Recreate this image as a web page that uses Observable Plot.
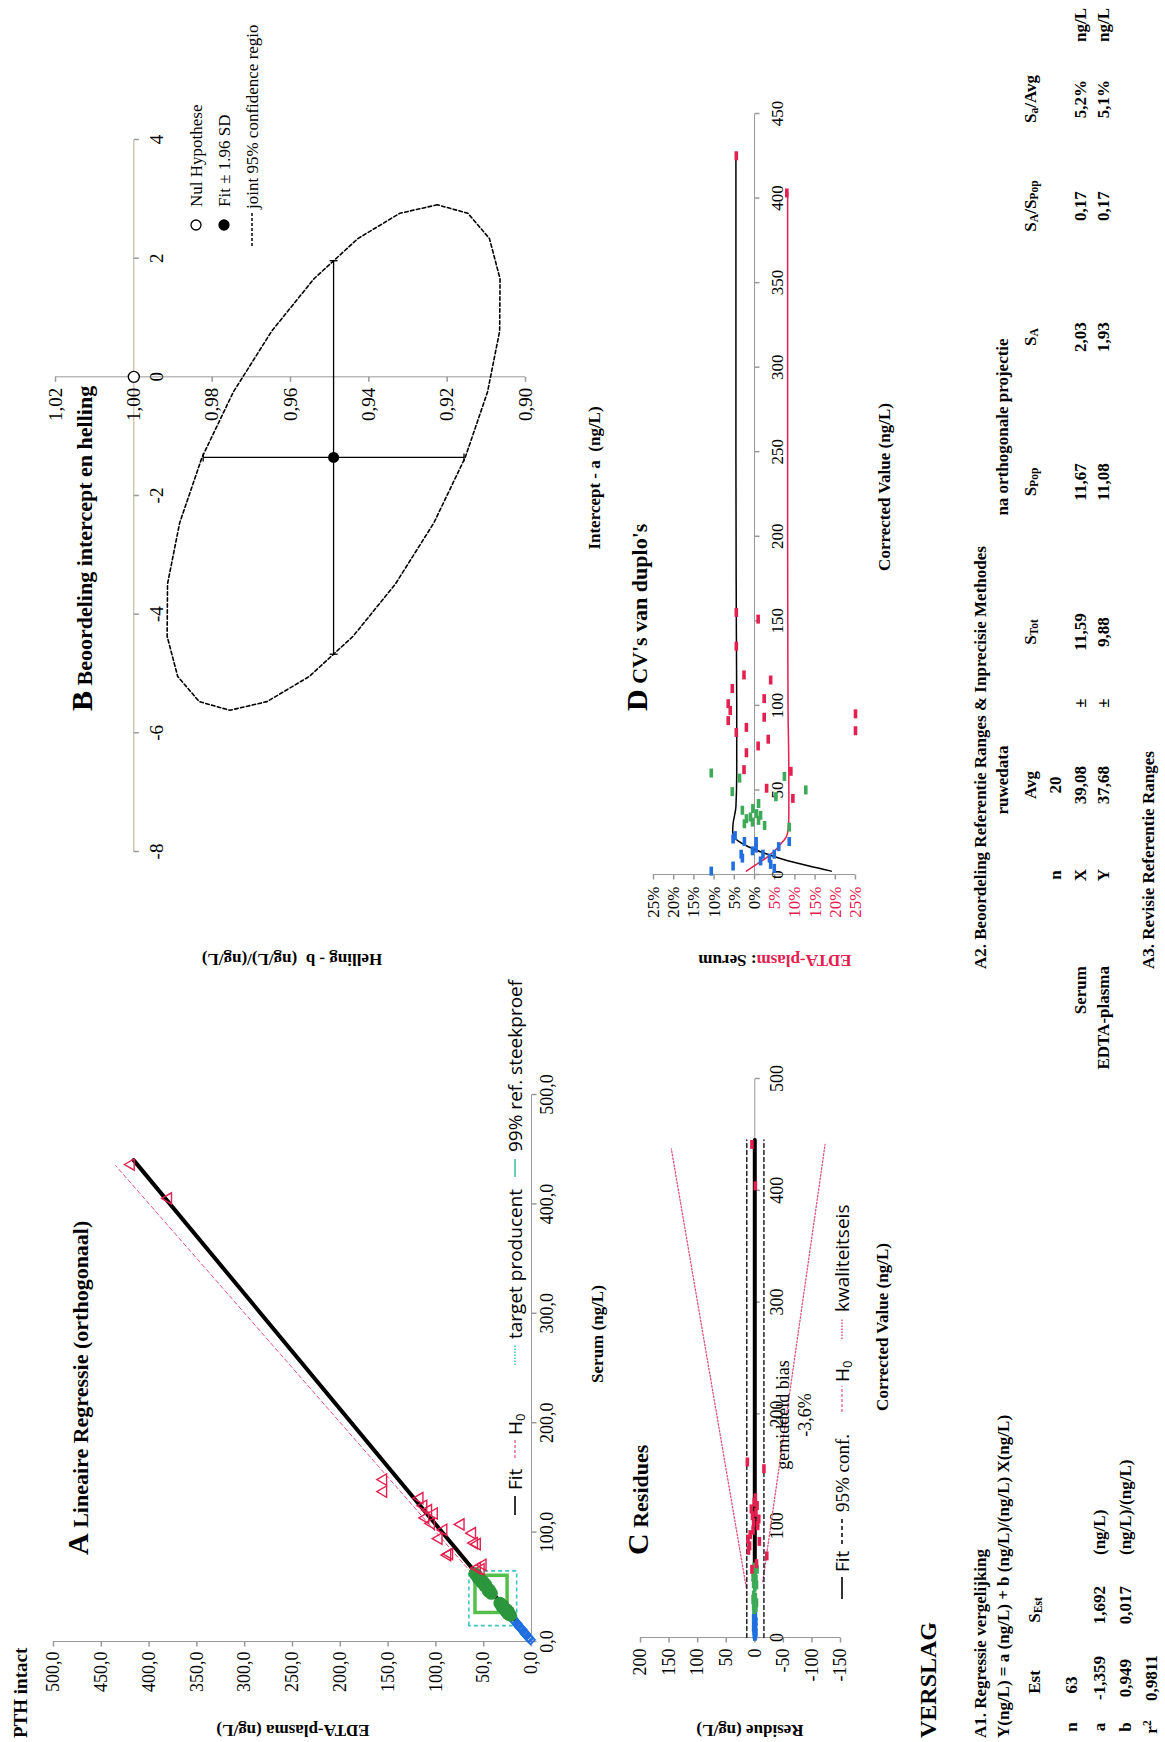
<!DOCTYPE html>
<html><head><meta charset="utf-8">
<script src="https://cdn.jsdelivr.net/npm/d3@7"></script>
<script src="https://cdn.jsdelivr.net/npm/@observablehq/plot@0.6"></script>
<style>
html,body{margin:0;padding:0;width:1165px;height:1742px;overflow:hidden;background:#fff;}
#page{position:absolute;left:0;top:0;width:1742px;height:1165px;transform-origin:0 0;transform:translate(0px,1742px) rotate(-90deg);background:#fff;font-family:'Liberation Serif','Times New Roman',serif;color:#000;overflow:hidden;}
.t{position:absolute;white-space:nowrap;line-height:1;}
.t sub{font-size:68%;vertical-align:-0.25em;line-height:0;}
.t sup{font-size:68%;vertical-align:0.5em;line-height:0;}
.w{position:absolute;}
</style></head>
<body><div id="page"></div>
<script>
const SERIF = "'Liberation Serif','Times New Roman',serif";
const SANS = "'Open Sans','Liberation Sans',sans-serif";
const RED = "#e3204f", BLUE = "#1f6fe0", GREEN = "#2c963c", LGREEN = "#3daa58", RGREEN = "#55bf4c",
      CYAN = "#3ec6c0", PINK = "#e0507a", AXIS = "#999";

// ---------- Panel A : Lineaire Regressie ----------
const aXTicks = [0, 100, 200, 300, 400, 500];
const aYTicks = [0, 50, 100, 150, 200, 250, 300, 350, 400, 450, 500];
const blueSerum = [1.5, 3, 4, 5.5, 6.5, 8, 9, 10.5, 12, 13, 14.5, 15.5, 16.5, 18, 19, 20.5, 7, 11];
const blueEdta  = [1, 2.5, 3.5, 5, 6, 7.5, 8, 9.5, 11, 12.5, 13.5, 14.5, 15, 17, 18, 19, 6.5, 10];
const greenSerum = [24, 25, 26, 27, 28, 29, 30, 31, 32, 33, 35, 44, 46, 47, 48, 50, 51, 52, 54, 55, 57, 58, 60, 62];
const greenEdta  = [22, 24, 25, 24, 27, 26, 28, 29, 31, 30, 33, 42, 45, 44, 46, 47, 49, 48, 52, 51, 54, 56, 57, 59];
const redSerum = [67, 70, 79, 80, 89, 94, 99, 102, 107, 108, 113, 117, 124, 131, 137, 148, 405, 436, 66, 90, 120];
const redEdta  = [57, 51, 88, 86, 57, 97, 62, 92, 74, 105, 111, 102, 113, 117, 155, 155, 380, 419, 53, 60, 108];
const fitAX = [20, 440];
const fitAY = [17.6, 416.2];
const h0AX = [0, 435];
const targetRange = [15, 65];
const refSerum = [27, 61];
const refEdta = [25, 58.6];

// ---------- Panel B : intercept en helling ----------
const bXTicks = [-8, -6, -4, -2, 0, 2, 4];
const bYTicks = [0.90, 0.92, 0.94, 0.96, 0.98, 1.00, 1.02];
const fitA = [-1.359];
const fitB = [0.949];
const errA = [-4.675, 1.957];
const errB = [0.9157, 0.9823];
const nulA = [0];
const nulB = [1.00];
const ellA = [2.90, 2.756, 2.33, 1.653, 0.77, -0.256, -1.359, -2.462, -3.49, -4.371, -5.05, -5.474, -5.62, -5.474, -5.05, -4.371, -3.49, -2.462, -1.359, -0.256, 0.77, 1.653, 2.33, 2.756];
const ellB = [0.9225, 0.9321, 0.9428, 0.9540, 0.9648, 0.9746, 0.9826, 0.9883, 0.9914, 0.9915, 0.9888, 0.9833, 0.9755, 0.9660, 0.9552, 0.9440, 0.9332, 0.9234, 0.9154, 0.9097, 0.9066, 0.9065, 0.9092, 0.9147];

// ---------- Panel C : Residues ----------
const cXTicks = [0, 100, 200, 300, 400, 500];
const cYTicks = [-150, -100, -50, 0, 50, 100, 150, 200];
const cBlueX = [1, 2, 3, 4, 5, 6, 8, 9, 10, 12, 13, 14, 16, 17, 19, 20];
const cBlueY = [0, -1, 1, 0, -2, 1, 0, 2, -1, 0, 1, -2, 0, 2, -1, 1];
const cGreenX = [25, 27, 28, 30, 31, 33, 34, 36, 38, 45, 47, 48, 50, 52, 54, 55, 57, 59, 61, 63];
const cGreenY = [1, -2, 2, 0, -3, 1, 3, -1, 2, 0, -3, 2, 1, -2, 3, 0, -1, 2, -4, 1];
const cRedX = [61, 66, 73, 78, 82, 86, 88, 92, 96, 100, 103, 106, 109, 112, 115, 118, 121, 125, 151, 157, 404, 441];
const cRedY = [5, -3, -21, 11, 9, -8, 12, 8, 3, -5, 2, -7, 4, -2, 6, -4, 1, -1, -16, 13, -1, 5];
const cFitX = [48, 445];
const cFitY = [0, 0];
const cConfX = [0, 445];
const cConfUp = [14, 14];
const cConfLo = [-16, -16];
const kwalUpX = [45, 437], kwalUpY = [15, 146];
const kwalLoX = [50, 441], kwalLoY = [-14, -123];

// ---------- Panel D : CV's van duplo's ----------
const dXTicks = [0, 50, 100, 150, 200, 250, 300, 350, 400, 450];
const dYTicks = [-25, -20, -15, -10, -5, 0, 5, 10, 15, 20, 25];
const dBlueX = [2, 5, 9.7, 12, 19.5, 21, 23, 14, 15.6, 19.5, 12, 9.7, 3.6, 12, 16.5, 19.5, 6, 8];
const dBlueY = [10.7, 5.3, 3, 3.3, 2.5, 5.3, 4.8, 0.5, -0.4, -0.4, -2.1, -3.7, -4.9, -4.9, -6, -8.6, -4, -1.5];
const dGreenX = [60, 49, 57, 39, 33, 30, 32, 34, 36, 35, 31, 38, 46, 58, 28, 50, 42, 29];
const dGreenY = [10.7, 5.5, 3.7, 0.4, 2, 2.5, -1, 1, -0.5, -1.5, 0.5, 3, -5.3, -7.4, -8.6, -12.7, -1, -2.5];
const dRedX = [61, 51, 91, 97, 101, 84, 118, 87, 72, 62, 135, 151, 76, 93, 80, 104, 85, 95, 425, 403, 110, 115, 45, 155];
const dRedY = [-9, -3, 6.5, 6, 6.5, 4.5, 2.6, 2, 2, 2.6, 4.5, -0.9, -0.9, -2.4, -3.4, -2.4, -25, -25, 4.5, -8, 5.5, -4, -9.5, 4.5];
const dBlackX = [2, 5, 9, 13, 17, 21, 25, 30, 40, 60, 100, 150, 250, 350, 425];
const dBlackY = [-19, -13.5, -7, -2, 2, 4.6, 5.4, 5.3, 4.6, 4.4, 4.4, 4.5, 4.6, 4.6, 4.6];
const dRedLineX = [2, 6, 10, 14, 18, 22, 26, 35, 60, 100, 200, 300, 403];
const dRedLineY = [2, -0.5, -3, -5, -6.5, -7.8, -8.3, -8.5, -8.5, -8.3, -8.2, -8.2, -8.2];

// ---------- helpers ----------
const pts = (xs, ys) => xs.map((x, i) => ({x, y: ys[i]}));
const fmt1 = d => d.toFixed(1).replace('.', ',');
const fmt2 = d => d.toFixed(2).replace('.', ',');
const tickDown = {draw(c) { c.moveTo(0, 0); c.lineTo(0, 5); }};
const tickLeft = {draw(c) { c.moveTo(0, 0); c.lineTo(-5, 0); }};
const capV = {draw(c) { c.moveTo(0, -4); c.lineTo(0, 4); }};
const capH = {draw(c) { c.moveTo(-4, 0); c.lineTo(4, 0); }};
const dashSym = {draw(c) { c.moveTo(-4.5, -1.8); c.lineTo(4.5, -1.8); c.lineTo(4.5, 1.8); c.lineTo(-4.5, 1.8); c.closePath(); }};
const page = document.getElementById('page');
const svgns = "http://www.w3.org/2000/svg";

function T(x, y, html, o = {}) {
  const {size = 17, bold = false, anchor = 'start', family = SERIF, color = '#000', rot = 0} = o;
  const d = document.createElement('div');
  d.className = 't';
  d.style.left = x + 'px'; d.style.top = y + 'px';
  d.style.fontSize = size + 'px';
  d.style.fontWeight = bold ? 'bold' : 'normal';
  d.style.fontFamily = family; d.style.color = color;
  const tx = anchor === 'start' ? '0' : anchor === 'middle' ? '-50%' : '-100%';
  d.style.transform = `translate(${tx},-50%)` + (rot ? ` rotate(${rot}deg)` : '');
  d.innerHTML = html;
  page.appendChild(d);
  return d;
}
function L(x1, x2, y, color, o = {}) {
  const {dash = null, width = 1.5} = o;
  const s = document.createElementNS(svgns, 'svg');
  s.setAttribute('width', x2 - x1); s.setAttribute('height', 10);
  s.style.position = 'absolute'; s.style.left = x1 + 'px'; s.style.top = (y - 5) + 'px';
  const l = document.createElementNS(svgns, 'line');
  l.setAttribute('x1', 0); l.setAttribute('x2', x2 - x1); l.setAttribute('y1', 5); l.setAttribute('y2', 5);
  l.setAttribute('stroke', color); l.setAttribute('stroke-width', width);
  if (dash) l.setAttribute('stroke-dasharray', dash);
  s.appendChild(l); page.appendChild(s);
}
function C(x, y, r, fill) {
  const s = document.createElementNS(svgns, 'svg');
  s.setAttribute('width', 2 * r + 4); s.setAttribute('height', 2 * r + 4);
  s.style.position = 'absolute'; s.style.left = (x - r - 2) + 'px'; s.style.top = (y - r - 2) + 'px';
  const c = document.createElementNS(svgns, 'circle');
  c.setAttribute('cx', r + 2); c.setAttribute('cy', r + 2); c.setAttribute('r', r);
  c.setAttribute('fill', fill); c.setAttribute('stroke', '#000'); c.setAttribute('stroke-width', 1.3);
  s.appendChild(c); page.appendChild(s);
}
function place(el, left, top) {
  const w = document.createElement('div');
  w.className = 'w'; w.style.left = left + 'px'; w.style.top = top + 'px';
  w.appendChild(el); page.appendChild(w);
}
const baseStyle = {background: "none", overflow: "visible"};

// ---------- Plot A ----------
const plotA = Plot.plot({
  width: 700, height: 580, marginLeft: 100, marginRight: 53, marginTop: 53, marginBottom: 49,
  x: {domain: [0, 500], axis: null}, y: {domain: [0, 500], axis: null},
  style: baseStyle,
  marks: [
    Plot.ruleX([aXTicks[0]], {y1: aYTicks[0], y2: aYTicks[aYTicks.length - 1], stroke: AXIS}),
    Plot.ruleY([aYTicks[0]], {x1: aXTicks[0], x2: aXTicks[aXTicks.length - 1], stroke: AXIS}),
    Plot.dot(aYTicks, {x: () => aXTicks[0], y: d => d, symbol: tickLeft, stroke: AXIS, fill: "none"}),
    Plot.text(aYTicks, {x: () => aXTicks[0], y: d => d, text: d => fmt1(d), dx: -10, textAnchor: "end", fontFamily: SERIF, fontSize: 18}),
    Plot.dot(aXTicks, {x: d => d, y: () => aYTicks[0], symbol: tickDown, stroke: AXIS, fill: "none"}),
    Plot.text(aXTicks, {x: d => d, y: () => aYTicks[0], text: d => fmt1(d), dy: 16, fontFamily: SERIF, fontSize: 18}),
    Plot.rect([{x1: targetRange[0], x2: targetRange[1], y1: targetRange[0], y2: targetRange[1]}],
      {x1: "x1", x2: "x2", y1: "y1", y2: "y2", fill: "none", stroke: CYAN, strokeWidth: 1.6, strokeDasharray: "4,3"}),
    Plot.rect([{x1: refSerum[0], x2: refSerum[1], y1: refEdta[0], y2: refEdta[1]}],
      {x1: "x1", x2: "x2", y1: "y1", y2: "y2", fill: "none", stroke: RGREEN, strokeWidth: 3.5}),
    Plot.line(pts(h0AX, h0AX), {x: "x", y: "y", stroke: PINK, strokeWidth: 1, strokeDasharray: "4,3"}),
    Plot.line(pts(fitAX, fitAY), {x: "x", y: "y", stroke: "#000", strokeWidth: 4}),
    Plot.dot(pts(blueSerum, blueEdta), {x: "x", y: "y", symbol: "diamond2", r: 4, stroke: BLUE, strokeWidth: 1.6, fill: "none"}),
    Plot.dot(pts(greenSerum, greenEdta), {x: "x", y: "y", r: 6.5, fill: GREEN}),
    Plot.dot(pts(redSerum, redEdta), {x: "x", y: "y", symbol: "triangle", r: 4.2, stroke: RED, strokeWidth: 1.4, fill: "none"})
  ]
});
place(plotA, 0, 0);

// ---------- Plot B ----------
const ell = pts(ellA, ellB);
const plotB = Plot.plot({
  width: 880, height: 560, marginLeft: 70, marginRight: 98, marginTop: 55, marginBottom: 35,
  x: {domain: [bXTicks[0], bXTicks[bXTicks.length - 1]], axis: null},
  y: {domain: [bYTicks[0], bYTicks[bYTicks.length - 1]], axis: null},
  style: baseStyle,
  marks: [
    Plot.ruleY(nulB, {x1: bXTicks[0], x2: bXTicks[bXTicks.length - 1], stroke: "#c0a890"}),
    Plot.ruleX(nulA, {y1: bYTicks[0], y2: bYTicks[bYTicks.length - 1], stroke: AXIS}),
    Plot.dot(bXTicks, {x: d => d, y: () => nulB[0], symbol: tickDown, stroke: AXIS, fill: "none"}),
    Plot.text(bXTicks, {x: d => d, y: () => nulB[0], text: d => String(d), dy: 23, fontFamily: SERIF, fontSize: 19}),
    Plot.dot(bYTicks, {x: () => nulA[0], y: d => d, symbol: tickLeft, stroke: AXIS, fill: "none"}),
    Plot.text(bYTicks, {x: () => nulA[0], y: d => d, text: d => fmt2(d), dx: -11, textAnchor: "end", fontFamily: SERIF, fontSize: 19}),
    Plot.line(ell, {x: "x", y: "y", curve: "linear-closed", stroke: "#000", strokeWidth: 1.6, strokeDasharray: "3.5,2.5"}),
    Plot.link([{a1: errA[0], a2: errA[1], b: fitB[0]}], {x1: "a1", x2: "a2", y1: "b", y2: "b", stroke: "#000", strokeWidth: 1.3}),
    Plot.link([{a: fitA[0], b1: errB[0], b2: errB[1]}], {x1: "a", x2: "a", y1: "b1", y2: "b2", stroke: "#000", strokeWidth: 1.3}),
    Plot.dot(errA, {x: d => d, y: () => fitB[0], symbol: capV, stroke: "#000", strokeWidth: 1.3, fill: "none"}),
    Plot.dot(errB, {x: () => fitA[0], y: d => d, symbol: capH, stroke: "#000", strokeWidth: 1.3, fill: "none"}),
    Plot.dot(pts(fitA, fitB), {x: "x", y: "y", r: 5.5, fill: "#000"}),
    Plot.dot(pts(nulA, nulB), {x: "x", y: "y", r: 5.5, fill: "#fff", stroke: "#000", strokeWidth: 1.4})
  ]
});
place(plotB, 820, 0);

// ---------- Plot C ----------
const plotC = Plot.plot({
  width: 700, height: 280, marginLeft: 104, marginRight: 37, marginTop: 40, marginBottom: 40,
  x: {domain: [0, 500], axis: null}, y: {domain: [-150, 200], axis: null},
  style: baseStyle,
  marks: [
    Plot.ruleX([cXTicks[0]], {y1: cYTicks[0], y2: cYTicks[cYTicks.length - 1], stroke: AXIS}),
    Plot.ruleY([0], {x1: cXTicks[0], x2: cXTicks[cXTicks.length - 1], stroke: AXIS}),
    Plot.dot(cYTicks, {x: () => cXTicks[0], y: d => d, symbol: tickLeft, stroke: AXIS, fill: "none"}),
    Plot.text(cYTicks, {x: () => cXTicks[0], y: d => d, text: d => String(d), dx: -11, textAnchor: "end", fontFamily: SERIF, fontSize: 18}),
    Plot.dot(cXTicks, {x: d => d, y: () => 0, symbol: tickDown, stroke: AXIS, fill: "none"}),
    Plot.text(cXTicks, {x: d => d, y: () => 0, text: d => String(d), dy: 22, fontFamily: SERIF, fontSize: 18}),
    Plot.line(pts(kwalUpX, kwalUpY), {x: "x", y: "y", stroke: PINK, strokeWidth: 1.3, strokeDasharray: "1.5,2"}),
    Plot.line(pts(kwalLoX, kwalLoY), {x: "x", y: "y", stroke: PINK, strokeWidth: 1.3, strokeDasharray: "1.5,2"}),
    Plot.line(pts(cConfX, cConfUp), {x: "x", y: "y", stroke: "#222", strokeWidth: 1.5, strokeDasharray: "4,3"}),
    Plot.line(pts(cConfX, cConfLo), {x: "x", y: "y", stroke: "#222", strokeWidth: 1.5, strokeDasharray: "4,3"}),
    Plot.line(pts(cFitX, cFitY), {x: "x", y: "y", stroke: "#000", strokeWidth: 4}),
    Plot.dot(pts(cBlueX, cBlueY), {x: "x", y: "y", symbol: dashSym, fill: BLUE}),
    Plot.dot(pts(cGreenX, cGreenY), {x: "x", y: "y", symbol: dashSym, fill: LGREEN}),
    Plot.dot(pts(cRedX, cRedY), {x: "x", y: "y", symbol: dashSym, fill: RED})
  ]
});
place(plotC, 0, 600);

// ---------- Plot D ----------
const plotD = Plot.plot({
  width: 880, height: 290, marginLeft: 67, marginRight: 52, marginTop: 43, marginBottom: 45,
  x: {domain: [0, 450], axis: null}, y: {domain: [-25, 25], axis: null},
  style: baseStyle,
  marks: [
    Plot.ruleX([dXTicks[0]], {y1: dYTicks[0], y2: dYTicks[dYTicks.length - 1], stroke: AXIS}),
    Plot.ruleY([0], {x1: dXTicks[0], x2: dXTicks[dXTicks.length - 1], stroke: AXIS}),
    Plot.dot(dYTicks, {x: () => dXTicks[0], y: d => d, symbol: tickLeft, stroke: AXIS, fill: "none"}),
    Plot.text(dYTicks, {x: () => dXTicks[0], y: d => d, text: d => Math.abs(d) + "%", fill: d => d < 0 ? RED : "#000", dx: -12, textAnchor: "end", fontFamily: SERIF, fontSize: 17}),
    Plot.dot(dXTicks, {x: d => d, y: () => 0, symbol: tickDown, stroke: AXIS, fill: "none"}),
    Plot.text(dXTicks, {x: d => d, y: () => 0, text: d => String(d), dy: 23, fontFamily: SERIF, fontSize: 17}),
    Plot.line(pts(dBlackX, dBlackY), {x: "x", y: "y", curve: "monotone-x", stroke: "#000", strokeWidth: 1.5}),
    Plot.line(pts(dRedLineX, dRedLineY), {x: "x", y: "y", curve: "monotone-x", stroke: RED, strokeWidth: 1.5}),
    Plot.dot(pts(dBlueX, dBlueY), {x: "x", y: "y", symbol: dashSym, fill: BLUE}),
    Plot.dot(pts(dGreenX, dGreenY), {x: "x", y: "y", symbol: dashSym, fill: LGREEN}),
    Plot.dot(pts(dRedX, dRedY), {x: "x", y: "y", symbol: dashSym, fill: RED})
  ]
});
place(plotD, 800, 610);

// ---------- titles & labels ----------
T(4, 20, 'PTH intact', {bold: true, size: 19});
T(187, 78, '<span style="font-size:30px">A</span> Lineaire Regressie (orthogonaal)', {bold: true, size: 22});
T(1031, 82, '<span style="font-size:30px">B</span> Beoordeling intercept en helling', {bold: true, size: 22});
T(187, 638, '<span style="font-size:30px">C</span> Residues', {bold: true, size: 22});
T(1031, 637, '<span style="font-size:30px">D</span> CV\'s van duplo\'s', {bold: true, size: 22});

T(408, 597, 'Serum (ng/L)', {bold: true, anchor: 'middle'});
T(12, 293, 'EDTA-plasma (ng/L)', {bold: true, anchor: 'middle', rot: -90});
T(783, 292, 'Helling - b&nbsp;&nbsp;(ng/L)/(ng/L)', {bold: true, anchor: 'middle', rot: -90});
T(1264, 594, 'Intercept - a&nbsp;&nbsp;(ng/L)', {bold: true, anchor: 'middle'});
T(12, 750, 'Residue (ng/L)', {bold: true, anchor: 'middle', rot: -90});
T(415, 882, 'Corrected Value (ng/L)', {bold: true, anchor: 'middle'});
T(782, 775, '<span style="color:' + RED + '">EDTA-plasm</span>: Serum', {bold: true, anchor: 'middle', rot: -90});
T(1255, 884, 'Corrected Value (ng/L)', {bold: true, anchor: 'middle'});
T(327, 783, 'gemiddeld bias', {size: 18, anchor: 'middle'});
T(327, 805, '-3,6%', {size: 18, anchor: 'middle'});

// legend A
L(227, 246, 515, '#000', {width: 1.6}); T(252, 515, 'Fit', {family: SANS, size: 19});
L(284, 304, 515, PINK, {dash: '3,2', width: 1.2}); T(307, 515, 'H<sub>0</sub>', {family: SANS, size: 19});
L(377, 397, 515, CYAN, {dash: '1.5,1.5', width: 1.6}); T(403, 515, 'target producent', {family: SANS, size: 19});
L(565, 583, 515, '#3ec8a8', {width: 1.6}); T(590, 515, '99% ref. steekproef', {family: SANS, size: 19});

// legend B
C(1517, 196, 5, '#fff'); T(1535, 196, 'Nul Hypothese', {size: 17});
C(1517, 224, 5, '#000'); T(1535, 224, 'Fit ± 1.96 SD', {size: 17});
L(1496, 1531, 252, '#000', {dash: '3,2', width: 1.5}); T(1533, 252, 'joint 95% confidence regio', {size: 17});

// legend C
L(143, 165, 842, '#000', {width: 1.6}); T(170, 842, 'Fit', {family: SANS, size: 19});
L(198, 226, 842, '#000', {dash: '4,3', width: 1.5}); T(230, 842, '95% conf.', {size: 19});
L(330, 356, 842, PINK, {dash: '3,2', width: 1.2}); T(360, 842, 'H<sub>0</sub>', {family: SANS, size: 19});
L(403, 423, 842, PINK, {dash: '1.5,1.5', width: 1.5}); T(430, 842, 'kwaliteitseis', {family: SANS, size: 19});

// ---------- VERSLAG / A1 ----------
T(4, 928, 'VERSLAG', {bold: true, size: 24});
T(4, 980, 'A1. Regressie vergelijking', {bold: true});
T(4, 1003, 'Y(ng/L) = a (ng/L) + b (ng/L)/(ng/L) X(ng/L)', {bold: true});
T(60, 1034, 'Est', {bold: true, anchor: 'middle'});
T(132, 1034, 'S<sub>Est</sub>', {bold: true, anchor: 'middle'});
T(15, 1071, 'n', {bold: true, anchor: 'middle'}); T(57, 1071, '63', {bold: true, anchor: 'middle'});
T(15, 1099, 'a', {bold: true, anchor: 'middle'}); T(64, 1099, '-1,359', {bold: true, anchor: 'middle'});
T(137, 1099, '1,692', {bold: true, anchor: 'middle'}); T(187, 1099, '(ng/L)', {bold: true});
T(15, 1125, 'b', {bold: true, anchor: 'middle'}); T(64, 1125, '0,949', {bold: true, anchor: 'middle'});
T(137, 1125, '0,017', {bold: true, anchor: 'middle'}); T(187, 1125, '(ng/L)/(ng/L)', {bold: true});
T(15, 1151, 'r<sup>2</sup>', {bold: true, anchor: 'middle'}); T(64, 1151, '0,9811', {bold: true, anchor: 'middle'});

// ---------- A2 ----------
T(773, 980, 'A2. Beoordeling Referentie Ranges &amp; Inprecisie Methodes', {bold: true});
T(962, 1002, 'ruwedata', {bold: true, anchor: 'middle'});
T(1315, 1002, 'na orthogonale projectie', {bold: true, anchor: 'middle'});
const hdr = [[957, 'Avg'], [1110, 'S<sub>Tot</sub>'], [1260, 'S<sub>Pop</sub>'], [1405, 'S<sub>A</sub>'], [1536, 'S<sub>A</sub>/S<sub>Pop</sub>'], [1643, 'S<sub>a</sub>/Avg']];
hdr.forEach(([x, h]) => T(x, 1030, h, {bold: true, anchor: 'middle'}));
T(867, 1055, 'n', {bold: true, anchor: 'middle'}); T(957, 1055, '20', {bold: true, anchor: 'middle'});
const rowSerum = ['39,08', '±', '11,59', '11,67', '2,03', '0,17', '5,2%'];
const rowEdta = ['37,68', '±', '9,88', '11,08', '1,93', '0,17', '5,1%'];
const colX = [957, 1039, 1110, 1260, 1405, 1536, 1643];
T(776, 1080, 'Serum', {bold: true, anchor: 'end'}); T(867, 1080, 'X', {bold: true, anchor: 'middle'});
rowSerum.forEach((v, i) => T(colX[i], 1080, v, {bold: true, anchor: 'middle'}));
T(1700, 1080, 'ng/L', {bold: true});
T(776, 1103, 'EDTA-plasma', {bold: true, anchor: 'end'}); T(867, 1103, 'Y', {bold: true, anchor: 'middle'});
rowEdta.forEach((v, i) => T(colX[i], 1103, v, {bold: true, anchor: 'middle'}));
T(1700, 1103, 'ng/L', {bold: true});
T(773, 1148, 'A3. Revisie Referentie Ranges', {bold: true});
</script>
</body></html>
